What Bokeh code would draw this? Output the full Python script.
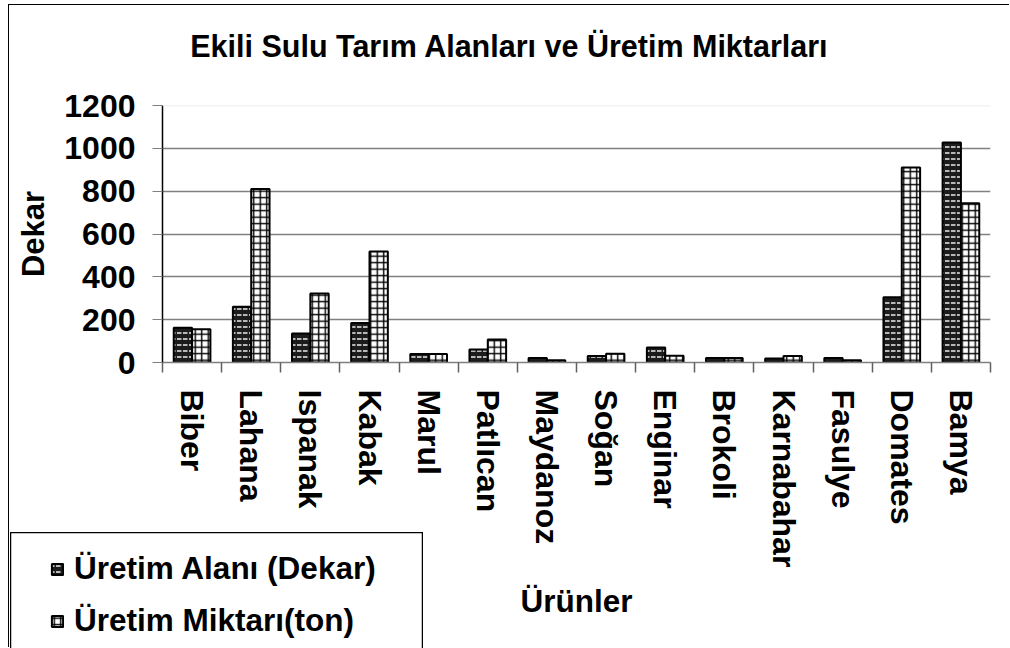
from bokeh.plotting import figure
from bokeh.layouts import column
from bokeh.models import (ColumnDataSource, FixedTicker, Legend, LegendItem,
                          Span, Range1d, Label)
from bokeh.embed import file_html
from bokeh.resources import INLINE

categories = ["Biber", "Lahana", "Ispanak", "Kabak", "Marul", "Patlıcan", "Maydanoz",
              "Soğan", "Enginar", "Brokoli", "Karnabahar", "Fasulye", "Domates", "Bamya"]
uretim_alani = [162, 260, 135, 185, 40, 61, 21, 30, 70, 21, 19, 21, 305, 1027]
uretim_miktari = [155, 810, 322, 518, 40, 107, 11, 41, 32, 21, 30, 11, 910, 743]
y_ticks = [0, 200, 400, 600, 800, 1000, 1200]
series_names = ["Üretim Alanı (Dekar)", "Üretim Miktarı(ton)"]
title_text = "Ekili Sulu Tarım Alanları ve Üretim Miktarları"

FONT = "Liberation Sans"
n = len(categories)
centers = [i + 0.5 for i in range(n)]
src = ColumnDataSource(dict(
    x1=[c - 0.155 for c in centers], x2=[c + 0.155 for c in centers],
    a=uretim_alani, m=uretim_miktari))

style_a = dict(fill_color="#1c1c1c", line_color="black", line_width=2,
               hatch_pattern="horizontal_dash", hatch_color="#b8b8b8",
               hatch_scale=6, hatch_weight=2)
style_m = dict(fill_color="white", line_color="black", line_width=2,
               hatch_pattern="cross", hatch_color="black",
               hatch_scale=6.5, hatch_weight=1.4)

p = figure(width=1001, height=643, output_backend="svg", toolbar_location=None,
           x_range=Range1d(0, n), y_range=Range1d(0, 1200),
           min_border_left=153, min_border_right=20, min_border_top=100,
           min_border_bottom=286)
p.frame_align = False
p.outline_line_color = None
p.background_fill_color = "white"
p.border_fill_color = "white"
p.margin = (4, 0, 0, 8)
p.styles = {"border-left": "1px solid black", "border-top": "1px solid black"}

r1 = p.vbar(x="x1", top="a", width=0.31, source=src, **style_a)
r2 = p.vbar(x="x2", top="m", width=0.31, source=src, **style_m)

# grid
p.xgrid.visible = False
p.ygrid.ticker = FixedTicker(ticks=y_ticks[1:-1])
p.ygrid.grid_line_color = "#808080"
p.ygrid.grid_line_width = 1.5
p.add_layout(Span(location=y_ticks[-1], dimension="width", line_color="#e8e8e8", line_width=1.5))

# y axis
ya = p.yaxis[0]
ya.ticker = FixedTicker(ticks=y_ticks)
ya.axis_line_color = "black"
ya.axis_line_width = 1.5
ya.major_tick_line_color = "#808080"
ya.major_tick_out = 10
ya.major_tick_in = 0
ya.minor_tick_line_color = None
ya.major_label_standoff = 17
ya.major_label_text_font = FONT
ya.major_label_text_font_style = "bold"
ya.major_label_text_font_size = "32px"
ya.major_label_text_color = "black"
ya.axis_label = "Dekar"
ya.axis_label_text_font = FONT
ya.axis_label_text_font_style = "bold"
ya.axis_label_text_font_size = "31px"
ya.axis_label_text_color = "black"
ya.axis_label_standoff = 10

# x axis
xa = p.xaxis[0]
xa.ticker = FixedTicker(ticks=centers, minor_ticks=list(range(n + 1)))
xa.major_label_overrides = {c: name for c, name in zip(centers, categories)}
xa.major_label_orientation = "vertical"
xa.axis_line_color = "#808080"
xa.axis_line_width = 1.5
xa.major_tick_line_color = None
xa.major_tick_out = 10
xa.major_tick_in = 0
xa.minor_tick_line_color = "#606060"
xa.minor_tick_line_width = 1.5
xa.minor_tick_out = 10
xa.minor_tick_in = 0
xa.major_label_standoff = 17
xa.major_label_text_font = FONT
xa.major_label_text_font_style = "bold"
xa.major_label_text_font_size = "32px"
xa.major_label_text_color = "black"
xa.axis_label = "Ürünler"
xa.axis_label_text_font = FONT
xa.axis_label_text_font_style = "bold"
xa.axis_label_text_font_size = "31.5px"
xa.axis_label_text_color = "black"
xa.axis_label_standoff = 13

# legend panel (boxed, lower left, overlapping the empty corner of the chart)
p2 = figure(width=413, height=120, output_backend="svg", toolbar_location=None,
            x_range=Range1d(-200, -199), y_range=Range1d(0, 1),
            x_axis_type=None, y_axis_type=None, min_border=0)
p2.frame_align = False
p2.grid.visible = False
p2.outline_line_color = "black"
p2.outline_line_width = 1.5
p2.background_fill_color = "white"
p2.border_fill_color = "white"
p2.margin = (-115, 0, 0, 10)
# same series glyphs, outside the visible range: only their legend swatches show
l1 = p2.vbar(x="x1", top="a", width=0.31, source=src, **style_a)
l2 = p2.vbar(x="x2", top="m", width=0.31, source=src, **style_m)

legend = Legend(items=[LegendItem(label=series_names[0], renderers=[l1]),
                       LegendItem(label=series_names[1], renderers=[l2])],
                location=(40, 13), orientation="vertical",
                border_line_color=None, background_fill_alpha=0,
                padding=0, margin=0, spacing=15,
                glyph_width=14, glyph_height=14, label_height=36,
                label_standoff=10,
                label_text_font=FONT, label_text_font_style="bold",
                label_text_font_size="31.5px", label_text_color="black")
p2.add_layout(legend)

# chart title panel, laid over the empty top band of the chart
p3 = figure(width=700, height=50, output_backend="svg", toolbar_location=None,
            x_range=Range1d(0, 1), y_range=Range1d(0, 1),
            x_axis_type=None, y_axis_type=None, min_border=0)
p3.frame_align = False
p3.grid.visible = False
p3.outline_line_color = None
p3.background_fill_color = "white"
p3.border_fill_color = "white"
p3.margin = (-632, 0, 0, 159)
p3.add_layout(Label(x=0.5, y=0.5, text=title_text, text_align="center",
                    text_baseline="middle", text_font=FONT, text_font_style="bold",
                    text_font_size="30.5px", text_color="black"))

layout = column(p, p2, p3)
open("out.html", "w").write(file_html(layout, INLINE))
